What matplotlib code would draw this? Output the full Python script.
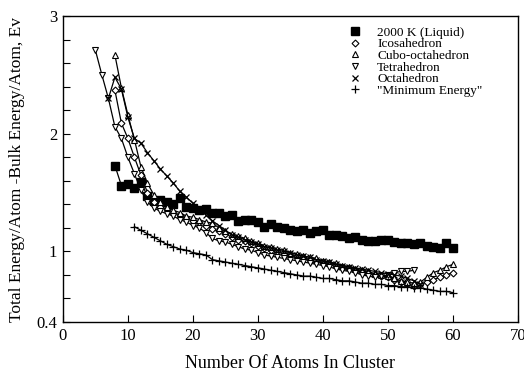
import matplotlib.pyplot as plt
import numpy as np
from matplotlib.ticker import FixedLocator, FuncFormatter

plt.rcParams.update({'font.family': 'Liberation Serif', 'font.size': 11})

# 2000 K liquid
x_liquid = np.arange(8, 61)
e_liquid = [1.73, 1.56, 1.57, 1.54, 1.59, 1.47, 1.43, 1.44, 1.42, 1.40,
            1.45, 1.38, 1.37, 1.35, 1.36, 1.33, 1.33, 1.30, 1.31, 1.26,
            1.27, 1.27, 1.25, 1.21, 1.23, 1.21, 1.20, 1.18, 1.17, 1.18,
            1.16, 1.17, 1.18, 1.14, 1.14, 1.13, 1.11, 1.12, 1.10, 1.09,
            1.09, 1.10, 1.10, 1.08, 1.07, 1.07, 1.06, 1.07, 1.05, 1.04,
            1.03, 1.07, 1.03]

x_ico = np.arange(8, 61)
e_ico = [2.37, 2.09, 1.96, 1.80, 1.65, 1.50, 1.42, 1.38, 1.36, 1.33,
         1.31, 1.28, 1.26, 1.25, 1.22, 1.19, 1.17, 1.15, 1.12, 1.10,
         1.09, 1.07, 1.05, 1.03, 1.01, 1.00, 0.98, 0.97, 0.96, 0.95,
         0.93, 0.92, 0.91, 0.90, 0.88, 0.87, 0.86, 0.84, 0.83, 0.82,
         0.80, 0.79, 0.78, 0.76, 0.74, 0.72, 0.71, 0.72, 0.74, 0.76,
         0.78, 0.80, 0.82]

x_cubo = np.arange(8, 61)
e_cubo = [2.67, 2.39, 2.16, 1.95, 1.72, 1.58, 1.48, 1.42, 1.38, 1.35,
          1.33, 1.30, 1.29, 1.27, 1.25, 1.24, 1.20, 1.17, 1.15, 1.13,
          1.11, 1.09, 1.07, 1.05, 1.04, 1.02, 1.01, 0.99, 0.98, 0.96,
          0.95, 0.94, 0.92, 0.91, 0.90, 0.88, 0.87, 0.85, 0.84, 0.83,
          0.81, 0.80, 0.79, 0.77, 0.75, 0.74, 0.73, 0.74, 0.78, 0.82,
          0.84, 0.87, 0.89]

x_tetra = np.arange(5, 55)
e_tetra = [2.71, 2.50, 2.30, 2.06, 1.96, 1.80, 1.66, 1.52, 1.42, 1.37,
           1.34, 1.32, 1.30, 1.27, 1.25, 1.22, 1.20, 1.16, 1.11, 1.09,
           1.08, 1.06, 1.04, 1.02, 1.01, 0.99, 0.97, 0.96, 0.95, 0.94,
           0.93, 0.92, 0.91, 0.90, 0.89, 0.88, 0.87, 0.85, 0.84, 0.83,
           0.82, 0.80, 0.79, 0.78, 0.79, 0.80, 0.82, 0.83, 0.83, 0.84]

x_octa = np.arange(7, 56)
e_octa = [2.30, 2.48, 2.38, 2.14, 1.96, 1.92, 1.84, 1.77, 1.70, 1.64,
          1.58, 1.51, 1.46, 1.41, 1.36, 1.31, 1.26, 1.22, 1.18, 1.14,
          1.12, 1.10, 1.08, 1.06, 1.04, 1.03, 1.01, 1.00, 0.99, 0.97,
          0.96, 0.95, 0.93, 0.92, 0.91, 0.89, 0.88, 0.87, 0.86, 0.85,
          0.84, 0.83, 0.82, 0.81, 0.80, 0.79, 0.77, 0.75, 0.72]

x_min = np.arange(11, 61)
e_min = [1.21, 1.18, 1.15, 1.12, 1.09, 1.06, 1.04, 1.02, 1.01, 0.99,
         0.98, 0.97, 0.93, 0.92, 0.91, 0.90, 0.89, 0.88, 0.87, 0.86,
         0.85, 0.84, 0.83, 0.82, 0.81, 0.80, 0.79, 0.79, 0.78, 0.77,
         0.77, 0.76, 0.75, 0.75, 0.74, 0.73, 0.73, 0.72, 0.72, 0.71,
         0.71, 0.70, 0.70, 0.69, 0.69, 0.68, 0.67, 0.66, 0.66, 0.65]

fig = plt.figure(figsize=(5.24, 3.82), dpi=100)
ax = fig.add_axes([0.120, 0.157, 0.8685, 0.801])

lw = 0.9
ax.plot(x_liquid, e_liquid, 'k-', lw=lw, marker='s', ms=5.5, mfc='black', mec='black', label='2000 K (Liquid)')
ax.plot(x_ico, e_ico, 'k-', lw=lw, marker='D', ms=3.5, mfc='white', mec='black', mew=0.8, label='Icosahedron')
ax.plot(x_cubo, e_cubo, 'k-', lw=lw, marker='^', ms=5, mfc='white', mec='black', mew=0.8, label='Cubo-octahedron')
ax.plot(x_tetra, e_tetra, 'k-', lw=lw, marker='v', ms=5, mfc='white', mec='black', mew=0.8, label='Tetrahedron')
ax.plot(x_octa, e_octa, 'k-', lw=lw, marker='x', ms=5, mec='black', mew=0.9, label='Octahedron')
ax.plot(x_min, e_min, 'k-', lw=lw, marker='+', ms=6, mec='black', mew=0.9, label='"Minimum Energy"')

ax.set_xlim(0, 70)
ax.set_ylim(0.4, 3)
ax.set_xticks(np.arange(0, 71, 10))
ax.yaxis.set_major_locator(FixedLocator(np.round(np.arange(0.4, 3.01, 0.2), 1)))
shown = {0.4: '0.4', 1.0: '1', 2.0: '2', 3.0: '3'}
ax.yaxis.set_major_formatter(FuncFormatter(lambda v, p: shown.get(round(v, 1), '')))
ax.tick_params(direction='in', length=5, width=0.8, labelsize=12, pad=4)
for s in ax.spines.values():
    s.set_linewidth(1.0)

ax.set_xlabel('Number Of Atoms In Cluster', fontsize=13, labelpad=8)
ax.set_ylabel('Total Energy/Atom -Bulk Energy/Atom, Ev', fontsize=12.5, labelpad=8)

leg = ax.legend(loc='upper right', bbox_to_anchor=(0.945, 1.0), frameon=False,
                handlelength=1.0, handletextpad=1.2,
                fontsize=9.5, labelspacing=-0.05, borderaxespad=0.4)
for h in leg.get_lines():
    h.set_linestyle('')

fig.savefig('out.png', dpi=100)
